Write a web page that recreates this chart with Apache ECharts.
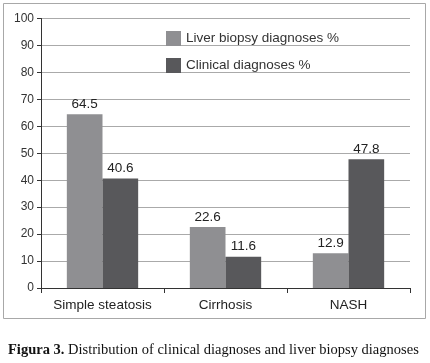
<!DOCTYPE html>
<html>
<head>
<meta charset="utf-8">
<script src="https://cdn.jsdelivr.net/npm/echarts@6/dist/echarts.min.js"></script>
<style>
  html, body { margin: 0; padding: 0; background: #fff; }
  #chart { width: 430px; height: 363px; }
</style>
</head>
<body>
<div id="chart"></div>
<script>
var categories = ['Simple steatosis', 'Cirrhosis', 'NASH'];
var liverBiopsy = [64.5, 22.6, 12.9];
var clinical = [40.6, 11.6, 47.8];
var yTicks = [0, 10, 20, 30, 40, 50, 60, 70, 80, 90, 100];

var chart = echarts.init(document.getElementById('chart'));
var sans = '"Liberation Sans", Arial, sans-serif';
var serif = '"Liberation Serif", "Times New Roman", serif';

var option = {
  animation: false,
  backgroundColor: '#fff',
  textStyle: { fontFamily: sans },
  title: {
    left: 3,
    top: 338,
    text: '{b|Figura 3.} Distribution of clinical diagnoses and liver biopsy diagnoses',
    textStyle: {
      fontFamily: serif,
      fontSize: 14.5,
      fontWeight: 'normal',
      color: '#111',
      rich: {
        b: { fontFamily: serif, fontSize: 14.5, fontWeight: 'bold', color: '#111' }
      }
    }
  },
  graphic: [{
    type: 'rect',
    shape: { x: 3.5, y: 3.5, width: 422, height: 315 },
    style: { fill: null, stroke: '#a8a8a8', lineWidth: 1 },
    silent: true
  }],
  legend: {
    orient: 'vertical',
    left: 161,
    top: 26,
    itemWidth: 15,
    itemHeight: 15,
    itemGap: 12,
    icon: 'rect',
    textStyle: { fontFamily: sans, fontSize: 13.5, color: '#333' },
    data: ['Liver biopsy diagnoses %', 'Clinical diagnoses %']
  },
  grid: { left: 41, right: 20, top: 18.5, bottom: 75 },
  xAxis: {
    type: 'category',
    data: categories,
    axisLine: { lineStyle: { color: '#333', width: 1 } },
    axisTick: { show: true, length: 5, inside: false, lineStyle: { color: '#333' } },
    axisLabel: { fontSize: 13.5, color: '#222', margin: 10, interval: 0 }
  },
  yAxis: {
    type: 'value',
    min: yTicks[0],
    max: yTicks[yTicks.length - 1],
    interval: 10,
    axisLine: { show: true, lineStyle: { color: '#333', width: 1 } },
    axisTick: { show: true, length: 4, lineStyle: { color: '#333' } },
    axisLabel: { fontSize: 12, color: '#333', margin: 7 },
    splitLine: { lineStyle: { color: '#aaa', width: 1 } }
  },
  series: [{
    name: 'Liver biopsy diagnoses %',
    type: 'bar',
    data: liverBiopsy,
    barGap: '0%',
    barCategoryGap: '42%',
    itemStyle: { color: '#8f8f92' },
    label: { show: true, position: 'top', distance: 3, fontSize: 13.5, color: '#222' }
  }, {
    name: 'Clinical diagnoses %',
    type: 'bar',
    data: clinical,
    barGap: '0%',
    barCategoryGap: '42%',
    itemStyle: { color: '#58585b' },
    label: { show: true, position: 'top', distance: 3, fontSize: 13.5, color: '#222' }
  }]
};
chart.setOption(option);
</script>
</body>
</html>
